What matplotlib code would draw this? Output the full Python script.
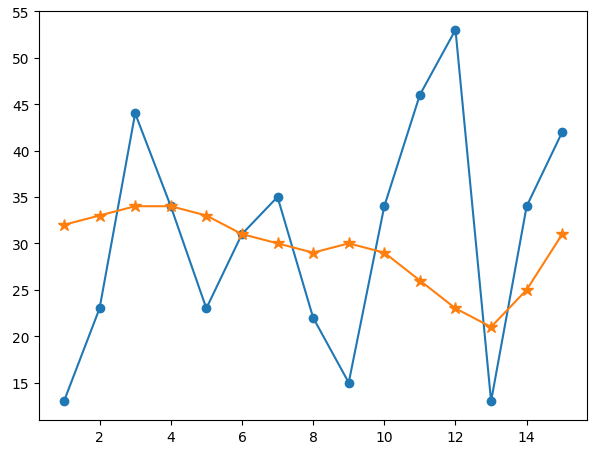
import matplotlib
matplotlib.use("Agg")
import matplotlib.pyplot as plt

x = list(range(1, 16))
blue = [13, 23, 44, 34, 23, 31, 35, 22, 15, 34, 46, 53, 13, 34, 42]
orange = [32, 33, 34, 34, 33, 31, 30, 29, 30, 29, 26, 23, 21, 25, 31]

fig = plt.figure(figsize=(6.01, 4.52), dpi=100)
ax = fig.add_axes([0.065, 0.069, 0.912, 0.904])
ax.plot(x, blue, marker='o')
ax.plot(x, orange, marker='*', markersize=9)
fig.savefig("out.png", dpi=100)
